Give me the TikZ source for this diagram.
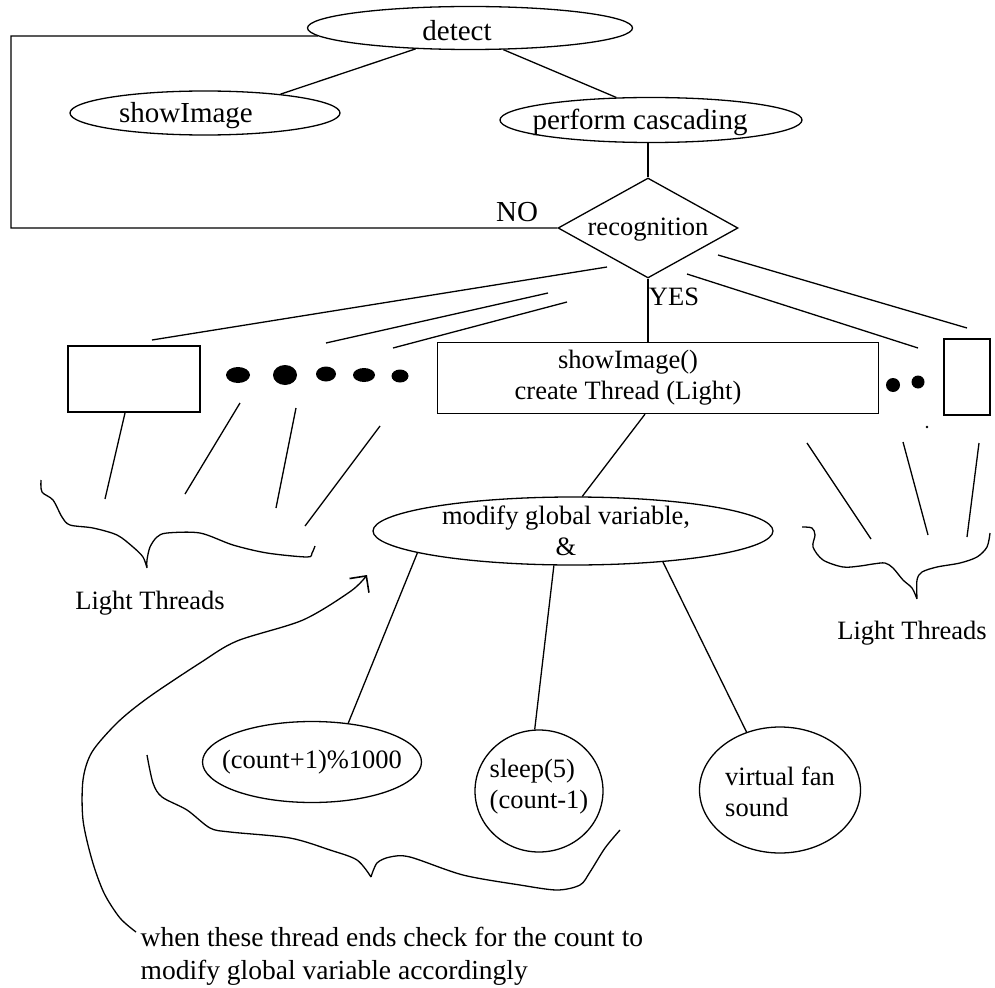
\documentclass[tikz,border=0pt]{standalone}
\usepackage{fontspec}
\setmainfont{Liberation Serif}
\usetikzlibrary{shapes,arrows.meta}

\begin{document}
\begin{tikzpicture}[x=1pt, y=-1pt, line width=1.3pt, font=\fontsize{26.5}{31}\selectfont]
    % 定义节点样式
    \tikzstyle{oval} = [ellipse, draw=black, inner sep=0pt]
    \tikzstyle{process} = [rectangle, draw=black, inner sep=0pt]
    \tikzstyle{decision} = [diamond, draw=black, inner sep=0pt]
    \tikzstyle{bead} = [ellipse, fill=black, inner sep=0pt]
    \tikzstyle{tag} = [inner sep=0pt]
    \tikzstyle{big} = [font=\fontsize{29}{33}\selectfont]
    \tikzstyle{arrow} = [-{Straight Barb[length=12pt, width=24pt, line width=1.6pt]}]

    \useasboundingbox (0,0) rectangle (995,987);

    % 上半部分节点
    \node [oval, minimum width=325, minimum height=43, label={[big, xshift=-13pt, yshift=-3pt]center:detect}] (detect) at (470,28) {};
    \node [oval, minimum width=270, minimum height=44, label={[big, xshift=-19pt, yshift=-3pt]center:showImage}] (show) at (205,113) {};
    \node [oval, minimum width=302, minimum height=45, label={[big, xshift=-11pt, yshift=-2pt]center:perform cascading}] (cascade) at (651,120) {};
    \node [decision, minimum width=180, minimum height=100, label={[yshift=-2pt]center:recognition}] (recog) at (648,228) {};
    \node [tag, big] (no) at (517,212) {NO};
    \node [tag] (yes) at (674,297) {YES};
    \coordinate (loop) at (11,36);

    % 线程一行
    \node [process, minimum width=132, minimum height=66] (lbox) at (134,379) {};
    \node [process, minimum width=441, minimum height=71, label={[align=center, xshift=-30pt]center:showImage()\\create Thread (Light)}] (thread) at (658,378) {};
    \node [process, minimum width=46, minimum height=76] (rbox) at (967,377) {};
    \node [bead, minimum width=24, minimum height=16] (b1) at (238,375) {};
    \node [bead, minimum width=24, minimum height=20] (b2) at (285,375) {};
    \node [bead, minimum width=20, minimum height=15] (b3) at (326,374) {};
    \node [bead, minimum width=22, minimum height=14] (b4) at (364,375) {};
    \node [bead, minimum width=17, minimum height=13] (b5) at (400,376) {};
    \node [bead, minimum width=14, minimum height=14] (b6) at (893,385) {};
    \node [bead, minimum width=13, minimum height=13] (b7) at (918,382) {};
    \fill (927,427) circle (1.3);

    % 下半部分节点
    \node [oval, minimum width=400, minimum height=68, label={[align=center, xshift=-7pt]center:modify global variable,\\\&}] (modify) at (573,531) {};
    \node [oval, minimum width=219, minimum height=81, label={center:(count+1)\%1000}] (count) at (312,762) {};
    \node [oval, minimum width=128, minimum height=122, label={[align=left, yshift=4pt]center:sleep(5)\\(count-1)}] (sleep) at (539,791) {};
    \node [oval, minimum width=161, minimum height=126, label={[align=left, yshift=-2pt]center:virtual fan\\sound}] (fan) at (780,790) {};
    \node [tag] (lt1) at (150,603) {Light Threads};
    \node [tag] (lt2) at (912,633) {Light Threads};
    \node [tag, anchor=west, align=left, font=\fontsize{27.5}{33}\selectfont] (note) at (140,956) {when these thread ends check for the count to\\modify global variable accordingly};

    % 散线端点
    \coordinate (s1a) at (607,267); \coordinate (s1b) at (152,340);
    \coordinate (s2a) at (548,293); \coordinate (s2b) at (326,343);
    \coordinate (s3a) at (567,302); \coordinate (s3b) at (393,348);
    \coordinate (s4a) at (718,255); \coordinate (s4b) at (967,328);
    \coordinate (s5a) at (687,274); \coordinate (s5b) at (918,348);
    \coordinate (d1a) at (125,413); \coordinate (d1b) at (105,499);
    \coordinate (d2a) at (240,403); \coordinate (d2b) at (185,494);
    \coordinate (d3a) at (296,408); \coordinate (d3b) at (276,508);
    \coordinate (d4a) at (380,426); \coordinate (d4b) at (305,526);
    \coordinate (d5a) at (807,443); \coordinate (d5b) at (871,539);
    \coordinate (d6a) at (903,442); \coordinate (d6b) at (928,535);
    \coordinate (d7a) at (979,443); \coordinate (d7b) at (967,537);
    \coordinate (tail) at (136,932);
    \coordinate (tip) at (367,575);

    % 连线
    \draw (detect.201) -- (show.14);
    \draw (detect.327) -- (cascade.147);
    \draw (cascade.south -| recog.north) -- (recog.north);
    \draw (recog.west) -| (loop) -- (detect.183);
    \draw (recog.south) -- (recog.south |- thread.north);
    \draw ([xshift=-13pt]thread.south) -- (modify.75);
    \draw (modify.188) -- (count.47);
    \draw (modify.241) -- (sleep.94);
    \draw (modify.341) -- (fan.120);
    \draw (s1a) -- (s1b);
    \draw (s2a) -- (s2b);
    \draw (s3a) -- (s3b);
    \draw (s4a) -- (s4b);
    \draw (s5a) -- (s5b);
    \draw (d1a) -- (d1b);
    \draw (d2a) -- (d2b);
    \draw (d3a) -- (d3b);
    \draw (d4a) -- (d4b);
    \draw (d5a) -- (d5b);
    \draw (d6a) -- (d6b);
    \draw (d7a) -- (d7b);

    % 手绘大括号
    \draw plot [smooth] coordinates {(41,480) (42,492) (53,500) (62,517) (70,525) (93,528) (117,535) (133,547) (143,557) (147,568)}
          plot [smooth] coordinates {(147,568) (147,560) (150,547) (157,537) (167,533) (200,533) (233,545) (267,553) (307,557) (312,553) (315,546)};
    \draw plot [smooth] coordinates {(802,527) (812,528) (815,535) (813,547) (823,560) (843,567) (860,566) (873,564) (885,563) (893,568) (903,580) (912,588) (917,599)}
          plot [smooth] coordinates {(917,599) (917,580) (922,572) (937,567) (960,563) (977,557) (987,547) (990,533)};
    \draw plot [smooth] coordinates {(147,755) (153,783) (162,797) (187,810) (210,828) (230,832) (290,838) (330,850) (357,860) (371,877)}
          plot [smooth] coordinates {(371,877) (377,863) (390,857) (410,857) (463,875) (520,885) (557,890) (580,885) (590,872) (605,848) (620,830)};

    % 回指箭头
    \draw [arrow] plot [smooth] coordinates {(tail) (120,918) (104,893) (92,860) (83,820) (83,780) (92,752) (118,722) (149,697) (200,663) (237,641) (303,620) (351,591) (tip)};
\end{tikzpicture}
\end{document}
